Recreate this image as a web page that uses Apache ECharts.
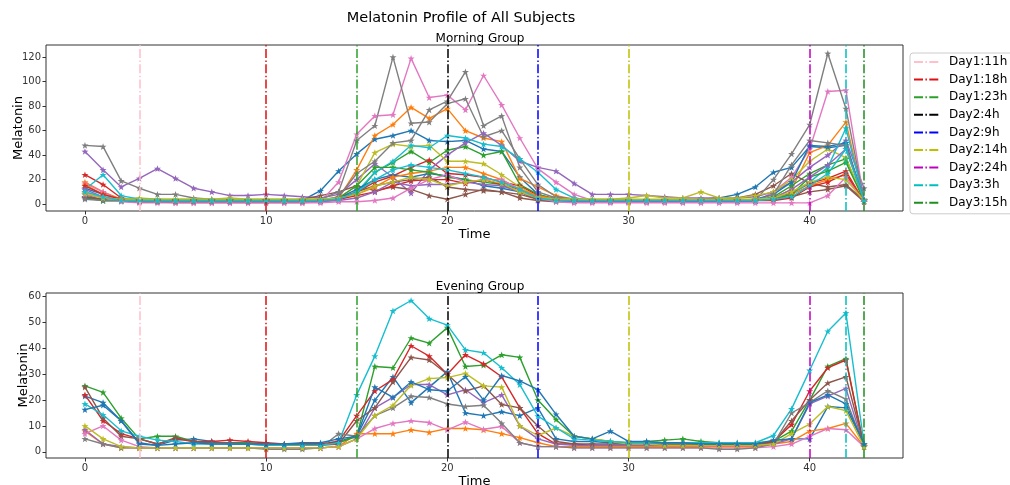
<!DOCTYPE html>
<html>
<head>
<meta charset="utf-8">
<script src="https://cdn.jsdelivr.net/npm/echarts@6/dist/echarts.min.js"></script>
<style>
html,body{margin:0;padding:0;background:#fff;}
#chart{width:1010px;height:485px;}
</style>
</head>
<body>
<div id="chart"></div>
<script>
const times = [0,1,2,3,4,5,6,7,8,9,10,11,12,13,14,15,16,17,18,19,20,21,22,23,24,25,26,27,28,29,30,31,32,33,34,35,36,37,38,39,40,41,42,43];
const xTicks = [0,10,20,30,40];
const morningTicks = [0,20,40,60,80,100,120];
const eveningTicks = [0,10,20,30,40,50,60];

const markerNames = ['Day1:11h','Day1:18h','Day1:23h','Day2:4h','Day2:9h','Day2:14h','Day2:24h','Day3:3h','Day3:15h'];
const markerTimes = [3,10,15,20,25,30,40,42,43];
const markerColors = ['#ffc0cb','#dd1111','#2ca02c','#000000','#0000ff','#bfbf00','#bf00bf','#00bfbf','#1f8f1f'];

const palette = ['#1f77b4','#ff7f0e','#2ca02c','#d62728','#9467bd','#8c564b','#e377c2','#7f7f7f','#bcbd22','#17becf'];

// Morning group subjects
const m01 = [13,8,4, 3,3,3,3,3,3,3,3,3,3, 11,27, 41,53,56,60,52,51,52,45,43,22,8, 4,3,3,3,3,3,3,3,4,5,8,14, 26,30,47,46,48,3];
const m02 = [18,10,4, 3,3,2,2,2,2,2,2,2,2, 3,5, 28,56,65,79,70,78,60,54,51,21,14, 7,4,3,3,3,3,3,3,3,3,3,3, 5,12,42,48,67,3];
const m03 = [8,3,3, 3,3,3,3,3,3,3,3,3,3, 3,4, 8,26,34,43,34,44,47,40,43,16,8, 4,3,3,3,3,3,3,3,3,3,3,3, 6,15,25,32,37,3];
const m04 = [24,16,5, 3,3,3,3,3,3,3,3,3,3, 3,4, 10,18,23,30,36,25,24,22,18,15,7, 3,3,3,3,3,3,3,3,3,3,3,3, 5,9,17,21,27,2];
const m05 = [43,28,14, 21,29,21,13,10,7,7,8,7,6, 5,8, 20,33,22,9,28,40,50,58,48,35,30, 27,17,8,8,8,7,6,5,5,5,5,6, 10,18,30,40,52,13];
const m06 = [5,4,3, 3,3,3,3,3,3,3,3,3,4, 7,10, 15,11,14,12,7,4,8,12,10,5,3, 2,2,2,2,2,2,2,2,2,3,5,8, 15,25,17,14,16,3];
const m07 = [17,10,3, 2,2,1,1,1,1,1,1,1,1, 2,18, 57,72,73,119,87,89,77,105,81,54,29, 18,8,3,2,2,2,2,2,2,2,2,2, 10,22,45,92,93,3];
const m08 = [48,47,19, 13,8,8,5,4,3,3,3,3,3, 4,10, 52,64,120,66,67,82,86,55,60,37,16, 6,4,3,3,3,3,3,3,3,3,3,3, 20,41,65,123,78,3];
const m09 = [10,6,4, 5,4,4,4,4,5,4,4,4,4, 4,5, 15,42,49,47,48,35,35,33,24,14,6, 4,4,4,4,5,7,5,5,10,5,5,7, 10,20,35,45,38,3];
const m10 = [12,24,7, 4,4,3,3,3,3,3,3,3,3, 3,4, 10,26,35,48,46,56,54,49,47,37,26, 12,5,3,3,3,3,3,3,3,3,3,3, 5,8,18,30,62,3];
const m11 = [5,3,3, 3,3,3,3,3,3,3,3,3,3, 3,5, 12,20,24,22,25,23,20,15,13,10,4, 3,3,3,3,3,3,3,3,3,3,3,4, 8,18,48,47,50,3];
const m12 = [16,8,4, 3,3,3,3,3,3,3,3,3,3, 3,4, 8,14,22,25,27,30,30,25,20,12,7, 4,3,3,3,3,3,3,3,3,3,3,3, 4,8,15,20,24,3];
const m13 = [6,3,3, 3,3,3,3,3,3,3,3,3,3, 3,5, 15,30,30,28,26,22,20,18,16,10,4, 3,3,3,3,3,3,3,3,3,3,3,3, 4,8,22,27,34,3];
const m14 = [15,8,4, 3,3,3,3,3,3,3,3,3,3, 3,4, 7,10,15,19,20,20,17,20,16,12,5, 3,3,3,3,3,3,3,3,3,3,3,3, 3,5,14,18,25,2];
const m15 = [12,6,3, 2,2,2,2,2,2,2,2,2,2, 2,3, 5,10,18,15,16,16,18,16,15,10,4, 3,2,2,2,2,2,2,2,2,2,2,3, 5,12,22,32,45,4];
const m16 = [6,4,3, 3,3,3,3,3,3,3,3,3,3, 3,5, 10,15,18,20,22,14,12,11,10,8,4, 3,3,3,3,3,3,3,3,3,3,3,3, 4,6,10,12,15,2];
const m17 = [8,5,2, 1,1,1,1,1,1,1,1,1,1, 1,2, 2,3,5,13,20,24,18,20,20,12,5, 2,1,1,1,1,1,1,1,1,1,1,1, 1,1,1,7,22,2];
const m18 = [4,3,3, 2,2,2,2,2,2,2,2,2,2, 3,6, 25,35,50,52,77,84,108,64,72,30,10, 5,3,3,3,3,3,3,3,3,3,3,3, 8,32,52,50,48,3];
const m19 = [9,5,4, 4,4,4,4,4,4,4,4,4,4, 4,5, 8,15,18,22,20,15,18,20,17,10,5, 4,4,4,4,4,4,4,4,4,4,4,4, 5,10,18,22,20,3];
const m20 = [10,6,3, 3,3,3,3,3,3,3,3,3,3, 3,4, 10,20,28,32,30,28,25,22,18,12,5, 3,3,3,3,3,3,3,3,3,3,3,3, 4,6,15,25,45,3];

// Evening group subjects
const e01 = [21.5,19,12, 3.5,2.5,4.5,5,4,3,3,2.5,2.5,3, 3,4, 6,20,29,19,25,31,15,14,15.5,14,17, 5,4,4,3.5,3,3,3,3,3,3,3,3, 4,5,5,17.5,17,3];
const e02 = [8,3,1.5, 1.5,1.5,1.5,1.5,1.5,1.5,1.5,1.5,1.5,1.5, 1.5,2, 7,7,7,8.5,7.5,9,9,8.5,7,5.5,3.5, 2,2,2,2,2,2,2,2,2,2,2,2, 3,4,8,9,11,2];
const e03 = [25.5,23,13, 5,6,6,4,3.5,3.5,3.5,3,3,3, 3,3.5, 6,33,32.5,44,42,48,33,33.5,37.5,36.5,20, 12.5,6,5,4,3.5,4,4.5,5,4,3.5,3.5,3.5, 4,8,20,33,36,2];
const e04 = [22,12,7, 5,3,5,4,4,4.5,4,3.5,3,3, 3,4, 14,23.5,28,41,37,30,37.5,34,29,17,7, 3,3,2.5,2.5,2.5,2.5,2.5,2.5,2.5,2.5,2.5,2.5, 4,10.5,23.5,32.5,35.5,2];
const e05 = [8.5,3,2, 1.5,1.5,1.5,1.5,1.5,1.5,1.5,1.5,1.5,1.5, 1.5,2, 5,17,21,26,26,22,24,19,22,10,5, 3,2.5,2.5,2.5,2.5,2.5,2.5,2.5,2.5,2.5,2.5,2.5, 3,5,18.5,21.5,24.5,2];
const e06 = [25,13,6, 5,3,5.5,4,3.5,3.5,3,3,2.5,2.5, 2.5,3, 12,17,27,36.5,35.5,30,23.5,25.5,18.3,17,10, 4,3,3,3,3,3,3,3,3,3,3,3, 3.5,12,20,26.6,29,2.5];
const e07 = [7,10,4.5, 2,1.5,1.5,1.5,1.5,1.5,1.5,1.5,1.5,1.5, 1.5,2, 5,9,11,12,11.3,8.5,11.5,8.7,9.8,3.5,2, 2,1.5,1.5,1.5,1.5,1.5,1.5,1.5,1.5,1.5,1.5,1.5, 2,3,6,9,8.5,2];
const e08 = [5,3,1.5, 1.5,1.5,1.5,1.5,1.5,1.5,1.5,1,1,1, 1.5,7, 6,14,17,21.5,21,18.5,17.5,18,11,3.5,2, 2,1.5,1.5,1.5,1.5,1.5,1.5,1.5,1.5,1,1,1.5, 3,15,19,23.6,20.4,2];
const e09 = [10,5,2, 1.5,1.5,1.5,1.5,1.5,1.5,1.5,1.5,1.5,1.5, 1.5,2, 5,14,18,25.7,28.3,28.7,30.3,25.5,25,10,6.3, 9.2,6,5,4,3,3,2.5,2.5,2.5,2.5,2.5,2.5, 3,7,10.7,17.5,15.9,2];
const e10 = [18.5,14.3,8.1, 6,4.5,4,3,3,3,3,2.5,2.5,2.5, 2.5,3.5, 22,37,54.5,58.5,51.5,49,39.4,38.3,32.5,26,13.8, 9.3,5,4.5,4,3.5,3.5,3.5,3.5,3.5,3.5,3.5,3.5, 6.3,16.6,31.5,46.6,53.7,3];
const e11 = [16.3,18,12, 3,2.5,3,3.5,3,3,3,3,3,3.5, 3.5,5, 6,25,21,27,24,23.5,29,20,29.5,27.4,24, 14.5,6,5,8,4,4,3.5,3.5,3,3,3,3, 4.5,5,19,22,18.5,3];

const morning = [m01,m02,m03,m04,m05,m06,m07,m08,m09,m10,m11,m12,m13,m14,m15,m16,m17,m18,m19,m20];
const evening = [e01,e02,e03,e04,e05,e06,e07,e08,e09,e10,e11];

const FONT = 'DejaVu Sans';
const STAR = 'path://M0,-10 L2.35,-3.24 L9.51,-3.09 L3.8,1.24 L5.88,8.09 L0,4 L-5.88,8.09 L-3.8,1.24 L-9.51,-3.09 L-2.35,-3.24 Z';
const DASHDOT = [9,2.4,1.5,2.4];

const series = [];
function addSubjects(list, gi) {
  list.forEach((arr, i) => {
    const c = palette[i % 10];
    series.push({
      type: 'line', xAxisIndex: gi, yAxisIndex: gi,
      data: times.map((t, j) => [t, arr[j]]),
      color: c, symbol: STAR, symbolKeepAspect: true, symbolSize: 7,
      lineStyle: { width: 1.4, color: c }, itemStyle: { color: c },
      silent: true, z: 2
    });
  });
}
addSubjects(morning, 0);
addSubjects(evening, 1);

[0, 1].forEach(gi => {
  markerNames.forEach((nm, k) => {
    series.push({
      type: 'line', name: nm, xAxisIndex: gi, yAxisIndex: gi, data: [],
      symbol: 'none', color: markerColors[k],
      lineStyle: { color: markerColors[k], width: 1.5, type: DASHDOT },
      z: 3,
      markLine: {
        silent: true, symbol: ['none', 'none'], animation: false,
        label: { show: false },
        lineStyle: { color: markerColors[k], width: 1.5, type: DASHDOT },
        data: [{ xAxis: markerTimes[k] }]
      }
    });
  });
});

function xAx(gi) {
  return {
    type: 'value', gridIndex: gi, min: -2.15, max: 45.15,
    name: 'Time', nameLocation: 'middle', nameGap: 17, nameMoveOverlap: false,
    nameTextStyle: { fontFamily: FONT, fontSize: 13, color: '#000' },
    axisLine: { show: false, onZero: false },
    axisTick: { show: true, length: 3.5, lineStyle: { color: '#333' }, customValues: xTicks },
    axisLabel: { fontFamily: FONT, fontSize: 10, color: '#333', margin: 5, customValues: xTicks },
    splitLine: { show: false }
  };
}
function yAx(gi, mn, mx, ticks, gap) {
  return {
    type: 'value', gridIndex: gi, min: mn, max: mx,
    name: 'Melatonin', nameLocation: 'middle', nameGap: gap, nameMoveOverlap: false,
    nameTextStyle: { fontFamily: FONT, fontSize: 13, color: '#000' },
    axisLine: { show: false, onZero: false },
    axisTick: { show: true, length: 3.5, lineStyle: { color: '#333' }, customValues: ticks },
    axisLabel: { fontFamily: FONT, fontSize: 10, color: '#333', margin: 5, customValues: ticks },
    splitLine: { show: false }
  };
}

const option = {
  animation: false,
  backgroundColor: '#fff',
  title: [
    { text: 'Melatonin Profile of All Subjects', left: 456, top: 6, textAlign: 'center',
      textStyle: { fontFamily: FONT, fontSize: 14.5, fontWeight: 'normal', color: '#000' } },
    { text: 'Morning Group', left: 475, top: 28, textAlign: 'center',
      textStyle: { fontFamily: FONT, fontSize: 12, fontWeight: 'normal', color: '#000' } },
    { text: 'Evening Group', left: 475, top: 276, textAlign: 'center',
      textStyle: { fontFamily: FONT, fontSize: 12, fontWeight: 'normal', color: '#000' } }
  ],
  legend: {
    orient: 'vertical', left: 910, top: 53, data: markerNames,
    itemWidth: 25, itemHeight: 14, itemGap: 5.6,
    padding: [3, 6, 5, 3],
    itemStyle: { opacity: 0 },
    borderColor: '#cccccc', borderWidth: 1, borderRadius: 3, backgroundColor: '#fff',
    textStyle: { fontFamily: FONT, fontSize: 12, color: '#000', padding: [0, 0, 0, 5] },
    selectedMode: false
  },
  grid: [
    { left: 46, top: 45, width: 857, height: 166, containLabel: false, outerBoundsMode: 'none',
      show: true, borderColor: '#333', borderWidth: 1, backgroundColor: 'transparent' },
    { left: 46, top: 293, width: 857, height: 165, containLabel: false, outerBoundsMode: 'none',
      show: true, borderColor: '#333', borderWidth: 1, backgroundColor: 'transparent' }
  ],
  xAxis: [xAx(0), xAx(1)],
  yAxis: [yAx(0, -5.6, 129.9, morningTicks, 21), yAx(1, -2.4, 61.4, eveningTicks, 16)],
  series: series
};

const chart = echarts.init(document.getElementById('chart'), null, { renderer: 'canvas' });
chart.setOption(option);
</script>
</body>
</html>
